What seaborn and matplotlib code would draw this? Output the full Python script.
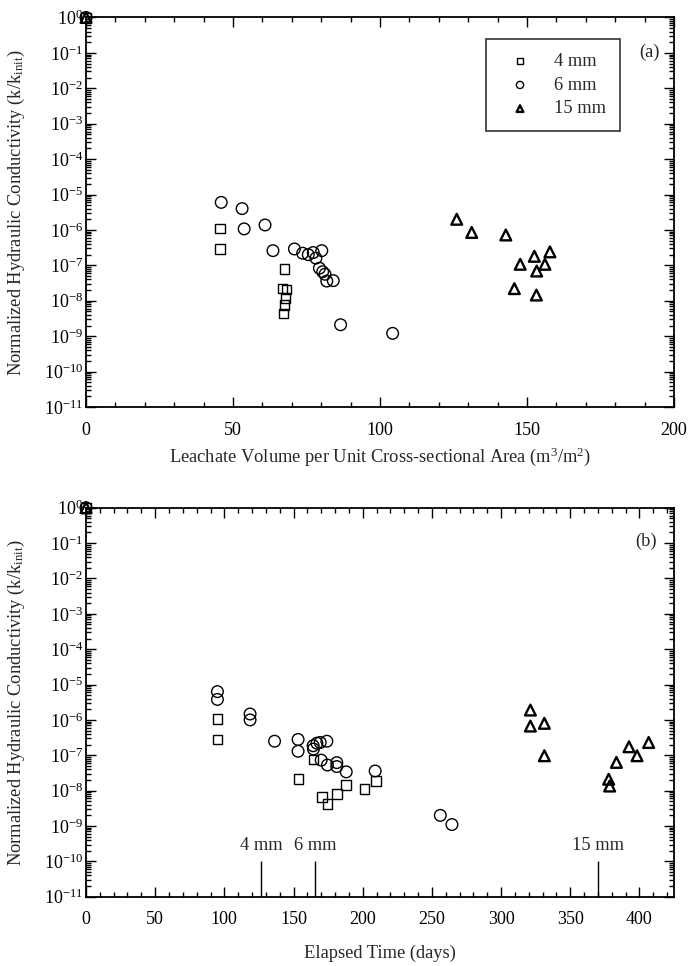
import numpy as np
import pandas as pd
import matplotlib
matplotlib.use("Agg")
import matplotlib.pyplot as plt
import seaborn as sns
from matplotlib.ticker import LogLocator, MultipleLocator, NullFormatter, FixedLocator

# ---------------- data: panel (a) leachate volume ----------------
a4_x = [0, 45.6, 45.6, 67.5, 66.8, 68.2, 67.9, 67.5, 67.2]
a4_y = [1, 1.1e-6, 2.9e-7, 8.0e-8, 2.2e-8, 2.1e-8, 1.2e-8, 7.6e-9, 4.4e-9]

a6_x = [0, 46.0, 53.1, 53.8, 60.9, 63.6, 70.9, 73.7, 75.6, 77.3, 78.2, 80.2,
        79.4, 80.5, 81.3, 81.9, 84.1, 86.6, 104.3]
a6_y = [1, 6.0e-6, 4.0e-6, 1.07e-6, 1.38e-6, 2.6e-7, 2.9e-7, 2.2e-7, 2.0e-7,
        2.3e-7, 1.6e-7, 2.6e-7, 8.3e-8, 6.6e-8, 5.6e-8, 3.6e-8, 3.7e-8,
        2.1e-9, 1.2e-9]

a15_x = [0, 126.1, 131.2, 142.8, 152.5, 157.8, 147.7, 156.1, 153.3, 145.7, 153.2]
a15_y = [1, 2.0e-6, 8.5e-7, 7.2e-7, 1.8e-7, 2.4e-7, 1.07e-7, 1.07e-7, 6.9e-8,
         2.2e-8, 1.45e-8]

# ---------------- data: panel (b) elapsed time ----------------
b4_x = [0, 95.1, 95.1, 153.7, 164.4, 170.5, 174.7, 181.3, 188.1, 201.4, 209.8]
b4_y = [1, 1.05e-6, 2.8e-7, 2.1e-8, 7.6e-8, 6.7e-9, 4.2e-9, 8.0e-9, 1.44e-8,
        1.1e-8, 1.9e-8]

b6_x = [0, 95.0, 95.0, 118.6, 118.6, 136.3, 153.3, 153.3, 164.2, 164.4, 166.9,
        169.3, 174.1, 170.0, 174.5, 181.3, 181.3, 188.1, 209.0, 256.1, 264.5]
b6_y = [1, 6.3e-6, 3.8e-6, 1.47e-6, 1.0e-6, 2.5e-7, 2.8e-7, 1.3e-7, 1.86e-7,
        1.5e-7, 2.2e-7, 2.3e-7, 2.5e-7, 7.3e-8, 5.3e-8, 6.2e-8, 4.8e-8,
        3.4e-8, 3.6e-8, 2.0e-9, 1.1e-9]

b15_x = [0, 321.2, 321.2, 331.3, 331.3, 377.8, 378.5, 383.4, 392.5, 398.3, 406.7]
b15_y = [1, 1.9e-6, 6.7e-7, 8.0e-7, 9.7e-8, 2.1e-8, 1.35e-8, 6.3e-8, 1.74e-7,
         9.7e-8, 2.3e-7]

# start-of-test markers for panel (b)
start_labels = ["4 mm", "6 mm", "15 mm"]
start_days = [126.4, 165.6, 369.9]

series_labels = ["4 mm", "6 mm", "15 mm"]

# ---------------- style ----------------
sns.set_theme(style="ticks")
plt.rcParams["font.family"] = ["Liberation Serif", "DejaVu Serif"]
plt.rcParams["mathtext.fontset"] = "custom"
plt.rcParams["mathtext.rm"] = "Liberation Serif"
plt.rcParams["mathtext.it"] = "Liberation Serif:italic"
plt.rcParams["mathtext.bf"] = "Liberation Serif:bold"
plt.rcParams["axes.unicode_minus"] = False

FS = 13.3
TFS = 13

fig = plt.figure(figsize=(6.89, 9.66), dpi=100)
ax_a = fig.add_axes([0.1248, 0.5787, 0.8534, 0.4032])
ax_b = fig.add_axes([0.1248, 0.0717, 0.8534, 0.4027])

mk = dict(facecolors="none", edgecolor="black", clip_on=False, zorder=3)


def draw(ax, x4, y4, x6, y6, x15, y15):
    d4 = pd.DataFrame({"x": x4, "y": y4})
    d6 = pd.DataFrame({"x": x6, "y": y6})
    d15 = pd.DataFrame({"x": x15, "y": y15})
    sns.scatterplot(data=d4, x="x", y="y", ax=ax, marker="s", s=48,
                    linewidth=1.0, label=series_labels[0], **mk)
    sns.scatterplot(data=d6, x="x", y="y", ax=ax, marker="o", s=70,
                    linewidth=1.0, label=series_labels[1], **mk)
    sns.scatterplot(data=d15, x="x", y="y", ax=ax, marker="^", s=60,
                    linewidth=1.7, label=series_labels[2], **mk)


def style_axis(ax, xmax, xmajor, xminor):
    ax.set_yscale("log")
    ax.set_ylim(1e-11, 1)
    ax.set_xlim(0, xmax)
    ax.yaxis.set_major_locator(FixedLocator([10.0 ** k for k in range(-11, 1)]))
    ax.yaxis.set_minor_locator(LogLocator(base=10, subs=np.arange(2, 10), numticks=30))
    ax.yaxis.set_minor_formatter(NullFormatter())
    ax.xaxis.set_major_locator(MultipleLocator(xmajor))
    ax.xaxis.set_minor_locator(MultipleLocator(xminor))
    ax.tick_params(which="both", direction="in", top=True, right=True,
                   colors="black", width=1.0)
    ax.tick_params(which="major", length=7)
    ax.tick_params(which="minor", length=3.5)
    ax.tick_params(axis="x", which="major", pad=10.5, labelsize=TFS)
    ax.tick_params(axis="y", which="major", pad=2, labelsize=TFS)
    for sp in ax.spines.values():
        sp.set_visible(True)
        sp.set_color("black")
        sp.set_linewidth(1.3)
    ax.set_ylabel(r"Normalized Hydraulic Conductivity (k/k$_{\mathrm{init}}$)",
                  fontsize=FS)
    ax.yaxis.set_label_coords(-0.100, 0.5)


# panel (a)
draw(ax_a, a4_x, a4_y, a6_x, a6_y, a15_x, a15_y)
style_axis(ax_a, 200, 50, 10)
ax_a.set_xlabel(r"Leachate Volume per Unit Cross-sectional Area (m$^3$/m$^2$)",
                fontsize=FS)
ax_a.xaxis.set_label_coords(0.5, -0.098)
ax_a.text(0.959, 0.911, "(a)", transform=ax_a.transAxes, ha="center",
          va="center", fontsize=FS)
leg = ax_a.legend(loc="upper left", bbox_to_anchor=(0.680, 0.944),
                  frameon=True, fancybox=False, fontsize=FS, markerscale=0.62,
                  handletextpad=0.75, borderpad=0.75, labelspacing=0.36,
                  borderaxespad=0, handlelength=2.2)
leg.get_frame().set_edgecolor("black")
leg.get_frame().set_linewidth(1.2)

# panel (b)
draw(ax_b, b4_x, b4_y, b6_x, b6_y, b15_x, b15_y)
ax_b.get_legend().remove()
style_axis(ax_b, 425, 50, 10)
ax_b.set_xlabel("Elapsed Time (days)", fontsize=FS)
ax_b.xaxis.set_label_coords(0.5, -0.122)
ax_b.text(0.952, 0.914, "(b)", transform=ax_b.transAxes, ha="center",
          va="center", fontsize=FS)
ax_b.vlines(start_days, 1e-11, 1e-10, colors="black", linewidth=1.0)
for lab, d in zip(start_labels, start_days):
    ax_b.text(d, 10 ** -9.55, lab, ha="center", va="center", fontsize=FS)

fig.savefig("out.png", dpi=100)
